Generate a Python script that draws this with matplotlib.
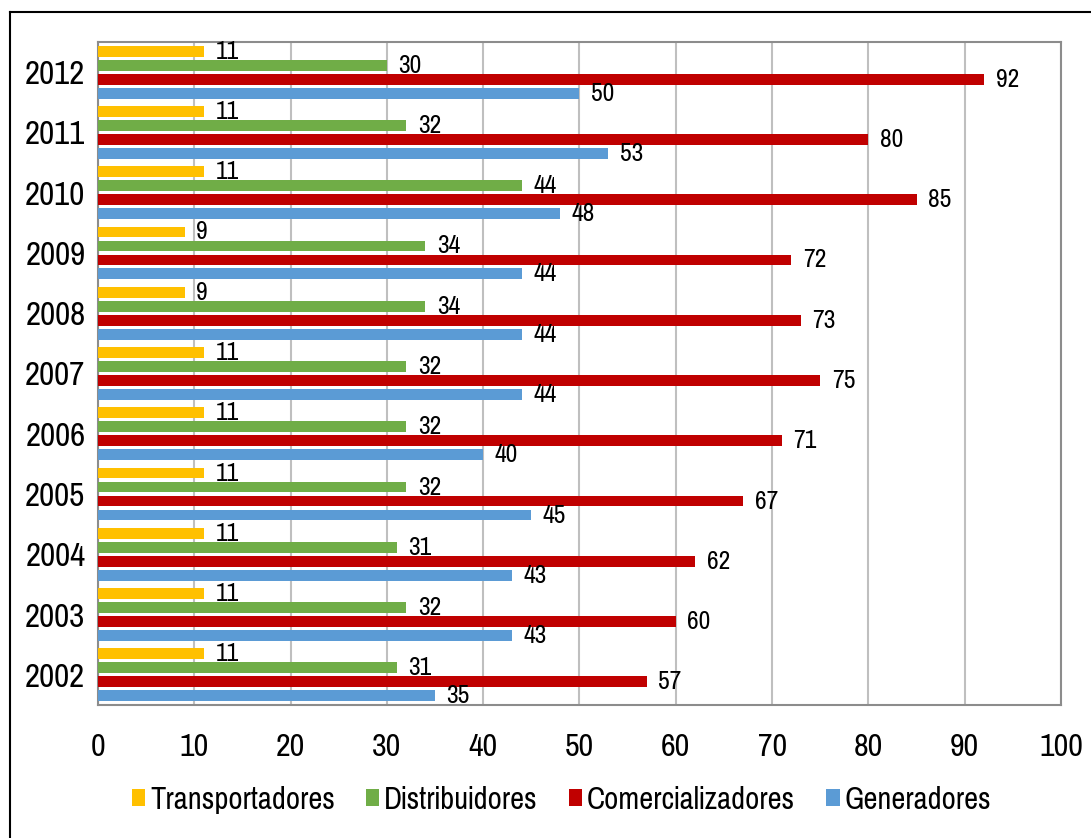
import numpy as np
import matplotlib.pyplot as plt
from matplotlib.lines import Line2D
from matplotlib import font_manager as fm

# pick a narrow face close to Arial Narrow
installed = set(f.name for f in fm.fontManager.ttflist)
face = 'Liberation Sans'
for cand in ['Liberation Sans Narrow', 'Arial Narrow', 'Pragati Narrow', 'Roboto Condensed',
             'Archivo Narrow', 'PT Sans Narrow', 'Open Sans Condensed']:
    if cand in installed:
        face = cand
        break
plt.rcParams['font.family'] = [face, 'DejaVu Sans']

years = ['2002', '2003', '2004', '2005', '2006', '2007', '2008', '2009', '2010', '2011', '2012']
transportadores = [11, 11, 11, 11, 11, 11, 9, 9, 11, 11, 11]
distribuidores = [31, 32, 31, 32, 32, 32, 34, 34, 44, 32, 30]
comercializadores = [57, 60, 62, 67, 71, 75, 73, 72, 85, 80, 92]
generadores = [35, 43, 43, 45, 40, 44, 44, 44, 48, 53, 50]

series = [
    ('Transportadores', transportadores, '#FFC000'),
    ('Distribuidores', distribuidores, '#70AD47'),
    ('Comercializadores', comercializadores, '#C00000'),
    ('Generadores', generadores, '#5B9BD5'),
]

fig = plt.figure(figsize=(10.91, 8.38), dpi=100)
ax = fig.add_axes([0.0898, 0.1587, 0.8827, 0.7912])

y = np.arange(len(years))
step = 0.232
offsets = [1.5 * step, 0.5 * step, -0.5 * step, -1.5 * step]

for (name, vals, col), off in zip(series, offsets):
    bars = ax.barh(y + off, vals, height=0.18, color=col, label=name, zorder=3)
    for b, v in zip(bars, vals):
        ax.text(v + 1.2, b.get_y() + b.get_height() / 2, str(v),
                va='center', ha='left', fontsize=20, zorder=4)

ax.set_xlim(0, 100)
ax.set_ylim(-0.5, 10.5)
ax.set_xticks(range(0, 101, 10))
ax.set_yticks(y)
ax.set_yticklabels(years)
ax.tick_params(axis='both', length=0)
ax.tick_params(axis='x', pad=20, labelsize=25)
ax.tick_params(axis='y', pad=9, labelsize=26)
ax.grid(axis='x', color='#bfbfbf', linewidth=1.5, zorder=0)
for s in ax.spines.values():
    s.set_color('#8c8c8c')
    s.set_linewidth(1.5)

fig.legend(loc='center', bbox_to_anchor=(0.5147, 0.045), ncol=4, frameon=False,
           fontsize=24, handlelength=0.4, handleheight=0.4, handletextpad=0.15,
           columnspacing=0.93)

# outer frame
x0 = 10 / 1091
y1 = 1 - 12 / 838
fig.add_artist(Line2D([x0, x0], [0, y1], color='black', linewidth=1.5, transform=fig.transFigure))
fig.add_artist(Line2D([x0, 1], [y1, y1], color='black', linewidth=1.5, transform=fig.transFigure))

fig.savefig('out.png', dpi=100)
